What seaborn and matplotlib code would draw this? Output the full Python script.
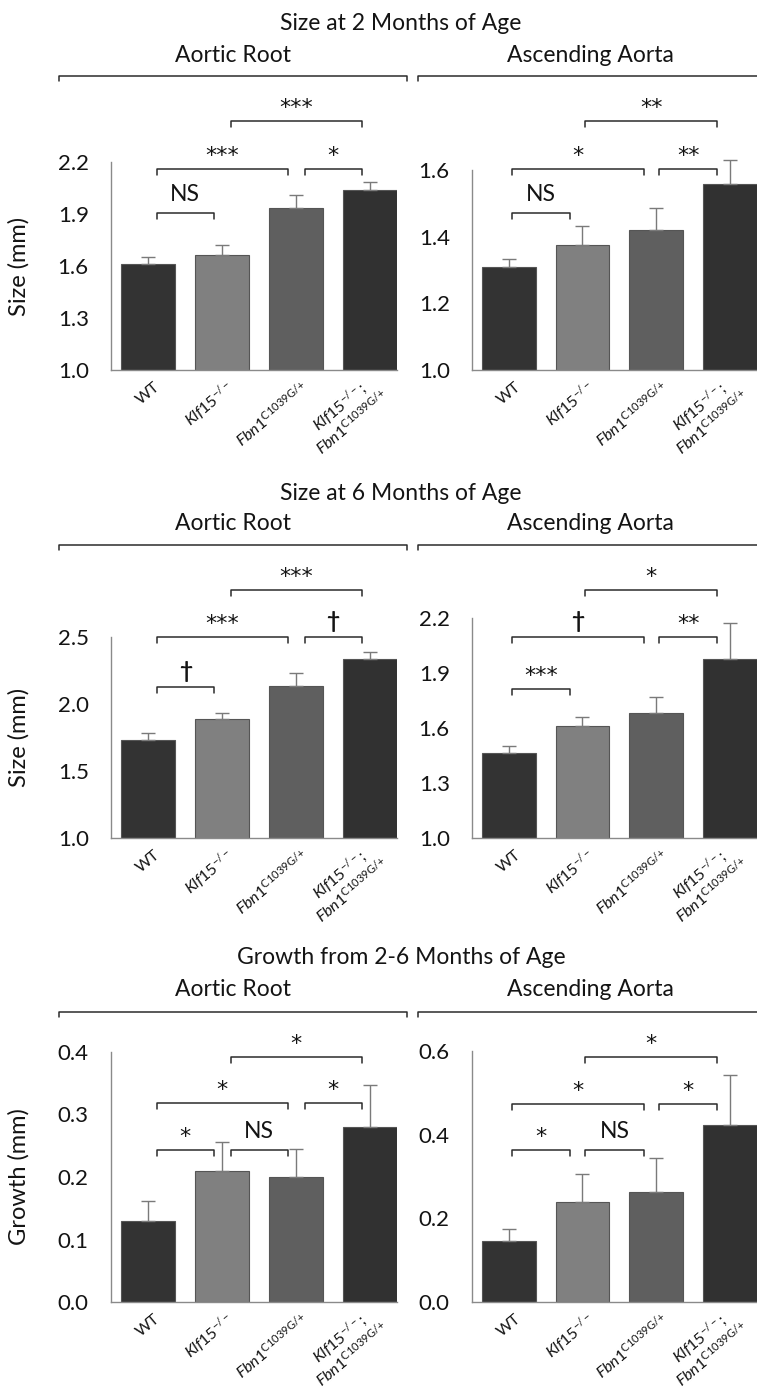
import numpy as np
import pandas as pd
import seaborn as sns
import matplotlib
matplotlib.use("Agg")
import matplotlib.pyplot as plt
from matplotlib.lines import Line2D
from matplotlib.transforms import blended_transform_factory, ScaledTranslation

# ---------------- data ----------------
genotypes = ["WT", "Klf15-/-", "Fbn1C1039G/+", "Klf15-/-;Fbn1C1039G/+"]
tick_labels = [
    "WT",
    r"$\mathit{Klf15}^{-/-}$",
    r"$\mathit{Fbn1}^{\mathrm{C1039G/{+}}}$",
    r"$\mathit{Klf15}^{-/-}$;" + "\n" + r"$\mathit{Fbn1}^{\mathrm{C1039G/{+}}}$",
]
bar_colors = ["#333333", "#808080", "#5f5f5f", "#313131"]

root_2m = [1.61, 1.662, 1.933, 2.037]
root_2m_err = [0.040, 0.060, 0.077, 0.046]
asc_2m = [1.31, 1.375, 1.42, 1.557]
asc_2m_err = [0.023, 0.058, 0.067, 0.073]

root_6m = [1.73, 1.885, 2.138, 2.336]
root_6m_err = [0.056, 0.050, 0.094, 0.052]
asc_6m = [1.465, 1.612, 1.681, 1.975]
asc_6m_err = [0.039, 0.047, 0.089, 0.197]

root_gr = [0.13, 0.21, 0.20, 0.28]
root_gr_err = [0.031, 0.046, 0.045, 0.067]
asc_gr = [0.146, 0.240, 0.263, 0.423]
asc_gr_err = [0.028, 0.066, 0.081, 0.119]

sig_root_2m = [((0, 1), "NS"), ((0, 2), "***"), ((2, 3), "*"), ((1, 3), "***")]
sig_asc_2m = [((0, 1), "NS"), ((0, 2), "*"), ((2, 3), "**"), ((1, 3), "**")]
sig_root_6m = [((0, 1), "†"), ((0, 2), "***"), ((2, 3), "†"), ((1, 3), "***")]
sig_asc_6m = [((0, 1), "***"), ((0, 2), "†"), ((2, 3), "**"), ((1, 3), "*")]
sig_root_gr = [((0, 1), "*"), ((1, 2), "NS"), ((0, 2), "*"), ((2, 3), "*"), ((1, 3), "*")]
sig_asc_gr = [((0, 1), "*"), ((1, 2), "NS"), ((0, 2), "*"), ((2, 3), "*"), ((1, 3), "*")]

row_titles = ["Size at 2 Months of Age", "Size at 6 Months of Age", "Growth from 2-6 Months of Age"]
col_titles = ["Aortic Root", "Ascending Aorta"]
y_labels = ["Size (mm)", "Size (mm)", "Growth (mm)"]
y_ticks = [
    ([1.0, 1.3, 1.6, 1.9, 2.2], [1.0, 1.2, 1.4, 1.6]),
    ([1.0, 1.5, 2.0, 2.5], [1.0, 1.3, 1.6, 1.9, 2.2]),
    ([0.0, 0.1, 0.2, 0.3, 0.4], [0.0, 0.2, 0.4, 0.6]),
]

# ---------------- style ----------------
sns.set_style("white")
FONT = "Lato"
plt.rcParams["font.family"] = [FONT, "DejaVu Sans"]
plt.rcParams["mathtext.fontset"] = "custom"
plt.rcParams["mathtext.rm"] = FONT
plt.rcParams["mathtext.it"] = FONT + ":italic"
plt.rcParams["mathtext.bf"] = FONT + ":bold"

W, H = 757, 1390
fig = plt.figure(figsize=(W / 100, H / 100), dpi=100)

def fy(py):
    return 1 - py / H

def fx(px):
    return px / W

TXT = "#141414"
LINE = "#2b2b2b"
AX = "#8a8a8a"

# axes boxes in pixels: (left, top, right, bottom)
boxes = [
    [(111, 162, 397, 370), (472, 170, 757, 370)],
    [(111, 637, 397, 838), (472, 618, 757, 838)],
    [(111, 1052, 397, 1302), (472, 1051, 757, 1302)],
]
# header positions (title y, subtitle y, big bracket y)
headers = [(23, 55, 76), (493, 523, 545), (958, 990, 1012)]
# bracket levels in pixels per panel
levels = [
    [(213, 169, 121), (213, 169, 121)],
    [(687, 637, 590), (689, 637, 590)],
    [(1150, 1103, 1057), (1150, 1104, 1057)],
]
# x offsets of bracket ends for left / right column
bx_off = [(0.12, 0.11), (0.04, 0.17)]

data = [
    [(root_2m, root_2m_err, sig_root_2m), (asc_2m, asc_2m_err, sig_asc_2m)],
    [(root_6m, root_6m_err, sig_root_6m), (asc_6m, asc_6m_err, sig_asc_6m)],
    [(root_gr, root_gr_err, sig_root_gr), (asc_gr, asc_gr_err, sig_asc_gr)],
]

def level_of(pair):
    i, j = pair
    if j - i == 1:
        return 1 if i == 2 else 0
    if j - i == 2 and i == 0:
        return 1
    return 2

for r in range(3):
    ty, sy, by = headers[r]
    fig.text(fx(401), fy(ty), row_titles[r], ha="center", va="center", fontsize=16.5, color=TXT)
    fig.text(fx(233), fy(sy), col_titles[0], ha="center", va="center", fontsize=16.5, color=TXT)
    fig.text(fx(590), fy(sy), col_titles[1], ha="center", va="center", fontsize=16.5, color=TXT)
    for (x0, x1) in [(59, 407), (418, 770)]:
        fig.add_artist(Line2D([fx(x0), fx(x0), fx(x1), fx(x1)],
                              [fy(by + 5), fy(by), fy(by), fy(by + 5)],
                              transform=fig.transFigure, color=LINE, lw=1.1))
    for c in range(2):
        l, t, rr, b = boxes[r][c]
        ax = fig.add_axes([fx(l), fy(b), (rr - l) / W, (b - t) / H])
        vals, errs, sigs = data[r][c]
        df = pd.DataFrame({"genotype": genotypes, "value": vals})
        sns.barplot(data=df, x="genotype", y="value", hue="genotype", palette=bar_colors,
                    order=genotypes, hue_order=genotypes, legend=False, width=0.73,
                    edgecolor="#555555", linewidth=0.8, errorbar=None, ax=ax)
        eb = ax.errorbar(np.arange(4), vals, yerr=[np.zeros(4), errs], fmt="none",
                         ecolor="#7a7a7a", elinewidth=1.0, capsize=5, capthick=1.0, zorder=1)
        for art in eb.get_children():
            art.set_clip_on(False)
        yt = y_ticks[r][c]
        ax.set_ylim(yt[0], yt[-1])
        ax.set_yticks(yt)
        ax.set_yticklabels([f"{v:.1f}" for v in yt])
        ax.set_xlim(-0.5, 3.37)
        for s in ["top", "right"]:
            ax.spines[s].set_visible(False)
        for s in ["left", "bottom"]:
            ax.spines[s].set_color(AX)
            ax.spines[s].set_linewidth(1.0)
        ax.tick_params(axis="y", direction="out", length=6, width=1.0, color=AX,
                       labelsize=16, labelcolor=TXT, pad=10)
        ax.tick_params(axis="x", length=0, pad=11, labelcolor=TXT)
        ax.set_xlabel("")
        if c == 0:
            ax.set_ylabel(y_labels[r], fontsize=17, color=TXT)
            ax.yaxis.set_label_coords((30 - l) / (rr - l), 0.5)
        else:
            ax.set_ylabel("")
        ax.set_xticks(range(4))
        ax.set_xticklabels(tick_labels, rotation=40, ha="right", va="center",
                           rotation_mode="anchor", fontsize=11.5, multialignment="center",
                           linespacing=0.9)
        off = ScaledTranslation(10 / 100, 0, fig.dpi_scale_trans)
        for lab in ax.get_xticklabels():
            lab.set_transform(lab.get_transform() + off)
        # significance brackets
        tr = blended_transform_factory(ax.transData, fig.transFigure)
        lo, hi = bx_off[c]
        for (pair, lbl) in sigs:
            i, j = pair
            py = levels[r][c][level_of(pair)]
            xa, xb = i + lo, j - hi
            ax.plot([xa, xa, xb, xb], [fy(py + 6), fy(py), fy(py), fy(py + 6)],
                    transform=tr, color=LINE, lw=1.1, clip_on=False)
            if lbl == "NS":
                ax.text((xa + xb) / 2, fy(py - 12), lbl, transform=tr, ha="center",
                        va="baseline", fontsize=16.5, color=TXT, clip_on=False)
            elif lbl == "†":
                ax.text((xa + xb) / 2, fy(py - 9), lbl, transform=tr, ha="center",
                        va="baseline", fontsize=16.5, color=TXT, clip_on=False,
                        fontweight="bold")
            else:
                ax.text((xa + xb) / 2, fy(py - 7), lbl, transform=tr, ha="center",
                        va="baseline", fontsize=16, color=TXT, clip_on=False,
                        family=["DejaVu Sans"])

fig.savefig("out.png", dpi=100)
